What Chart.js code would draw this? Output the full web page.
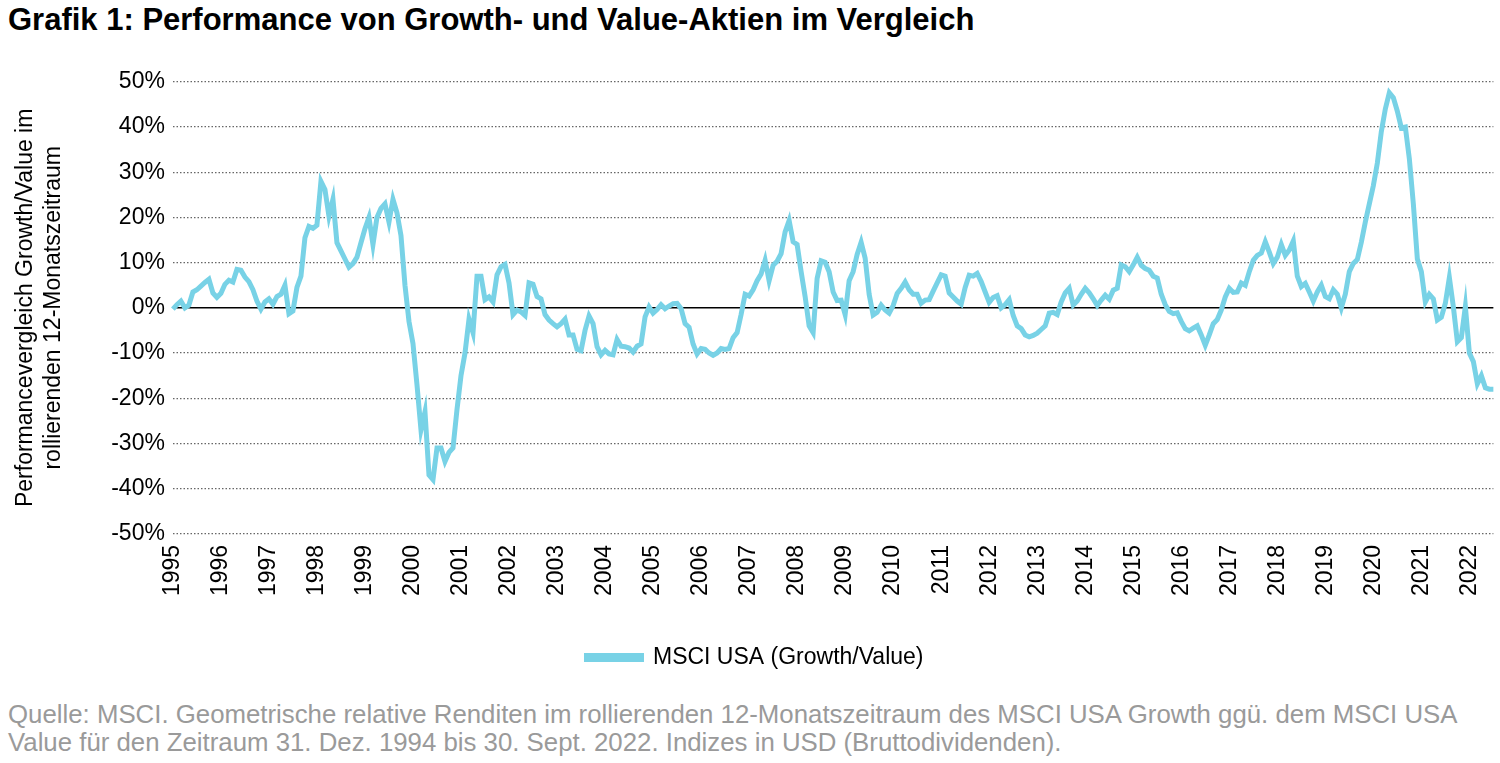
<!DOCTYPE html>
<html>
<head>
<meta charset="utf-8">
<script src="https://cdn.jsdelivr.net/npm/chart.js@4"></script>
<style>
  body { margin: 0; background: #fff; font-family: "Liberation Sans", Arial, sans-serif; }
  #title { position: absolute; left: 8px; top: 2px; font-size: 31px; font-weight: bold; color: #000; white-space: nowrap; }
  #wrap { position: absolute; left: 0; top: 60px; width: 1500px; height: 619px; }
  #note { position: absolute; left: 8px; top: 700px; font-size: 25.8px; line-height: 28px; color: #9a9a9a; white-space: nowrap; }
</style>
</head>
<body>
<div id="title">Grafik 1: Performance von Growth- und Value-Aktien im Vergleich</div>
<div id="wrap"><canvas id="chart"></canvas></div>
<div id="note">Quelle: MSCI. Geometrische relative Renditen im rollierenden 12-Monatszeitraum des MSCI USA Growth ggü. dem MSCI USA<br>Value für den Zeitraum 31. Dez. 1994 bis 30. Sept. 2022. Indizes in USD (Bruttodividenden).</div>
<script>
// Monatswerte in %
const growthValue = [
  -0.3, 0.7, 1.5, 0, 0.6, 3.5, 4, 4.8, 5.6, 6.3, 3.3, 2.3,
  3.2, 5.2, 6.1, 5.7, 8.5, 8.3, 6.8, 5.8, 4, 1.5, -0.3, 1.3,
  2, 0.8, 2.5, 3, 5, -1.3, -0.7, 4.5, 7, 15.5, 18, 17.6,
  18.3, 28, 26.2, 20.3, 24, 14.4, 12.6, 10.8, 9, 9.8, 11.2, 14.4,
  17.5, 20, 14, 20, 22, 23, 19, 24, 21, 16, 5, -3,
  -7.9, -17, -27, -23, -37, -38, -31, -31, -34, -32, -31, -22.5,
  -15, -10, -2.5, -5.5, 7, 7, 1.8, 2.4, 1.3, 7.3, 9.1, 9.6,
  5.5, -1.5, -0.5, -0.9, -1.7, 5.5, 5.2, 2.5, 2, -1.5, -2.7, -3.5,
  -4.2, -3.5, -2.5, -6, -6, -9.2, -9.5, -5, -1.8, -3.5, -8.6, -10.4,
  -9.4, -10.2, -10.4, -7, -8.5, -8.6, -8.9, -9.8, -8.5, -8, -2, 0.2,
  -1.2, -0.4, 0.7, -0.2, 0.4, 0.9, 1, -0.2, -3.5, -4.3, -8, -10.2,
  -9, -9.2, -10, -10.5, -10, -9, -9.2, -9, -6.6, -5.5, -1.5, 3,
  2.6, 4, 6, 7.5, 10.5, 6, 9.4, 10.3, 12, 16.8, 19.3, 14.6,
  14, 8, 2.5, -4, -5.5, 6.5, 10.4, 10.1, 8, 3.5, 1.6, 1.7,
  -1.5, 6, 8, 11.8, 14.5, 11, 3, -1.6, -1, 0.6, -0.5, -1.2,
  0.5, 3.2, 4.3, 5.7, 4, 3, 3, 1, 1.7, 1.8, 3.7, 5.5,
  7.3, 7, 3.3, 2.4, 1.5, 0.8, 4.5, 7.2, 7, 7.6, 5.8, 3.5,
  1.2, 2.3, 2.7, 0, 0.7, 1.8, -1.7, -4, -4.6, -6, -6.4, -6.1,
  -5.6, -4.8, -4, -1.2, -1, -1.5, 1.3, 3.3, 4.3, 0.6, 1.5, 3,
  4.3, 3.3, 2, 0.5, 1.7, 2.8, 1.9, 3.9, 4.3, 9.5, 9.1, 8,
  9.5, 11.2, 9.4, 8.7, 8.3, 7, 6.6, 3, 0.7, -0.8, -1.3, -1.1,
  -3, -4.6, -5.1, -4.5, -4, -6, -8.3, -6, -3.5, -2.6, -0.5, 2.4,
  4.3, 3.4, 3.5, 5.5, 5, 8, 10.5, 11.6, 12.1, 14.6, 12.3, 9.8,
  11.2, 14, 11.6, 12.8, 14.8, 7, 4.7, 5.4, 3.5, 1.5, 3.5, 5,
  2.5, 2, 4, 3, 0, 3, 8, 9.8, 10.7, 14.5, 19, 23,
  27, 32, 39, 44, 47.6, 46.5, 43.5, 39.8, 40, 33, 23, 10.8,
  8, 1.3, 3, 2, -2.7, -2.1, 1, 6.7, 0.2, -7.5, -6.6, 0.3,
  -10, -11.9, -16.8, -15, -17.7, -18, -18
];
const startYear = 1995;
const months = growthValue.map((v, i) => (startYear + Math.floor(i / 12)) + '-' + String(i % 12 + 1).padStart(2, '0'));
const yTicks = [-50, -40, -30, -20, -10, 0, 10, 20, 30, 40, 50];

const lineColor = '#78D2E6';
const font = { family: '"Liberation Sans", Arial, sans-serif', size: 23 };

new Chart(document.getElementById('chart'), {
  type: 'line',
  data: {
    labels: months,
    datasets: [{
      label: 'MSCI USA (Growth/Value)',
      data: growthValue,
      borderColor: lineColor,
      backgroundColor: lineColor,
      borderWidth: 5,
      pointRadius: 0,
      tension: 0
    }]
  },
  options: {
    responsive: true,
    maintainAspectRatio: false,
    animation: false,
    layout: { padding: { left: 12, right: 2, top: 11 } },
    scales: {
      x: {
        grid: { display: false },
        border: { display: false },
        ticks: {
          color: '#000',
          font: font,
          autoSkip: false,
          maxRotation: 90,
          minRotation: 90,
          callback: function(value, index) {
            return index % 12 === 0 ? String(startYear + index / 12) : null;
          }
        }
      },
      y: {
        min: -50,
        max: 50,
        afterBuildTicks: function(axis) {
          axis.ticks = yTicks.map(v => ({ value: v }));
        },
        title: {
          display: true,
          text: ['Performancevergleich Growth/Value im', 'rollierenden 12-Monatszeitraum'],
          color: '#000',
          font: font,
          padding: { top: 0, bottom: 36 }
        },
        grid: {
          drawTicks: false,
          lineWidth: function(ctx) { return ctx.tick && ctx.tick.value === 0 ? 1.5 : 1.2; },
          color: function(ctx) { return ctx.tick && ctx.tick.value === 0 ? '#000' : '#666'; }
        },
        border: {
          display: false,
          dash: function(ctx) { return ctx.tick && ctx.tick.value === 0 ? [] : [1.5, 2]; }
        },
        ticks: {
          color: '#000',
          font: font,
          padding: 8,
          callback: function(value) { return value + '%'; }
        }
      }
    },
    plugins: {
      legend: {
        position: 'bottom',
        labels: {
          color: '#000',
          font: font,
          boxWidth: 55,
          boxHeight: 4,
          padding: 47
        }
      },
      tooltip: { enabled: false }
    }
  }
});
</script>
</body>
</html>
